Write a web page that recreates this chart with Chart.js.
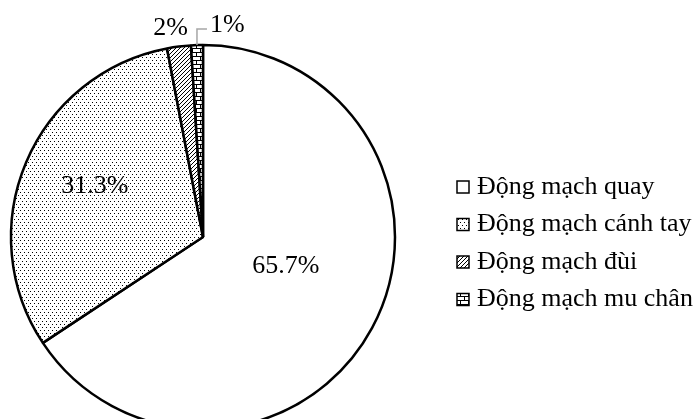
<!DOCTYPE html>
<html>
<head>
<meta charset="utf-8">
<script src="https://cdn.jsdelivr.net/npm/chart.js@4/dist/chart.umd.min.js"></script>
<style>
  html, body { margin: 0; padding: 0; background: #fff; overflow: hidden; }
  #wrap { position: relative; width: 697px; height: 419px; }
</style>
</head>
<body>
<div id="wrap"><canvas id="c" width="697" height="419"></canvas></div>
<script>
// Share of arterial access sites (%)
const categories = ['Động mạch quay', 'Động mạch cánh tay', 'Động mạch đùi', 'Động mạch mu chân'];
const shares = [65.7, 31.3, 2, 1];
const fillKinds = ['plain', 'dots', 'hatch', 'brick'];

const FONT = '"Liberation Serif", "Times New Roman", serif';

// Small monochrome tiles used as slice fills
function makeFill(kind) {
  if (kind === 'plain') return '#ffffff';
  const sizes = { dots: [4, 6], hatch: [4, 4], brick: [8, 8] };
  const [w, h] = sizes[kind];
  const t = document.createElement('canvas');
  t.width = w; t.height = h;
  const g = t.getContext('2d');
  g.fillStyle = '#fff'; g.fillRect(0, 0, w, h);
  g.fillStyle = '#000';
  if (kind === 'dots') { g.fillRect(0, 0, 1, 1); g.fillRect(2, 3, 1, 1); }
  if (kind === 'hatch') { for (let i = 0; i < 4; i++) g.fillRect(i, 3 - i, 1, 1); }
  if (kind === 'brick') {
    g.fillRect(0, 0, 8, 1); g.fillRect(0, 4, 8, 1);
    g.fillRect(0, 0, 1, 4); g.fillRect(4, 4, 1, 4);
  }
  return g.createPattern(t, 'repeat');
}
const fills = fillKinds.map(makeFill);

// Percentage labels: inside for the big slices, outside for the thin ones
const sliceLabels = {
  id: 'sliceLabels',
  afterDatasetsDraw(chart, args, opts) {
    const ctx = chart.ctx;
    const meta = chart.getDatasetMeta(0);
    ctx.save();
    ctx.font = opts.font;
    ctx.fillStyle = '#000';
    ctx.textBaseline = 'middle';
    meta.data.forEach((arc, i) => {
      const p = opts.place[i];
      const { x, y, startAngle, endAngle, outerRadius } = arc.getProps(['x', 'y', 'startAngle', 'endAngle', 'outerRadius'], true);
      const mid = (startAngle + endAngle) / 2;
      const text = chart.data.datasets[0].data[i] + '%';
      const px = x + Math.cos(mid) * outerRadius * p.r;
      const py = y + Math.sin(mid) * outerRadius * p.r;
      if (p.leader) {
        const topY = py - p.leader.up;
        const endX = px + p.leader.right;
        ctx.strokeStyle = '#a6a6a6';
        ctx.lineWidth = 1.5;
        ctx.beginPath();
        ctx.moveTo(px, py);
        ctx.lineTo(px, topY);
        ctx.lineTo(endX, topY);
        ctx.stroke();
        ctx.textAlign = 'left';
        ctx.fillText(text, endX + 3, topY + p.dy);
      } else {
        ctx.textAlign = 'center';
        ctx.fillText(text, px + p.dx, py + p.dy);
      }
    });
    ctx.restore();
  }
};

// Legend at the right with pattern swatches
const sideLegend = {
  id: 'sideLegend',
  afterDraw(chart, args, opts) {
    const ctx = chart.ctx;
    const bg = chart.data.datasets[0].backgroundColor;
    ctx.save();
    ctx.font = opts.font;
    ctx.textBaseline = 'middle';
    ctx.textAlign = 'left';
    chart.data.labels.forEach((lab, i) => {
      const cy = opts.y + i * opts.step;
      const bx = opts.x, by = cy - opts.box / 2;
      ctx.fillStyle = bg[i];
      ctx.fillRect(bx, by, opts.box, opts.box);
      ctx.strokeStyle = '#000';
      ctx.lineWidth = 1.5;
      ctx.strokeRect(bx, by, opts.box, opts.box);
      ctx.fillStyle = '#000';
      ctx.fillText(lab, bx + opts.box + 8, cy + opts.textDy);
    });
    ctx.restore();
  }
};

new Chart(document.getElementById('c'), {
  type: 'pie',
  data: {
    labels: categories,
    datasets: [{
      data: shares,
      backgroundColor: fills,
      borderColor: '#000',
      borderWidth: 2.5,
      clip: false
    }]
  },
  options: {
    responsive: false,
    animation: false,
    radius: 192,
    layout: { padding: { left: 0, right: 291, top: 55, bottom: 0 } },
    plugins: {
      legend: { display: false },
      tooltip: { enabled: false },
      sliceLabels: {
        font: '26px ' + FONT,
        place: [
          { r: 0.46, dx: 5, dy: -13 },
          { r: 0.60, dx: -2, dy: -6 },
          { r: 1.1, dx: -6, dy: 1 },
          { r: 1.0, leader: { up: 16, right: 10 }, dy: -4 }
        ]
      },
      sideLegend: { font: '26px ' + FONT, x: 457, y: 187, step: 37.5, box: 12, textDy: 0 }
    }
  },
  plugins: [sliceLabels, sideLegend]
});
</script>
</body>
</html>
